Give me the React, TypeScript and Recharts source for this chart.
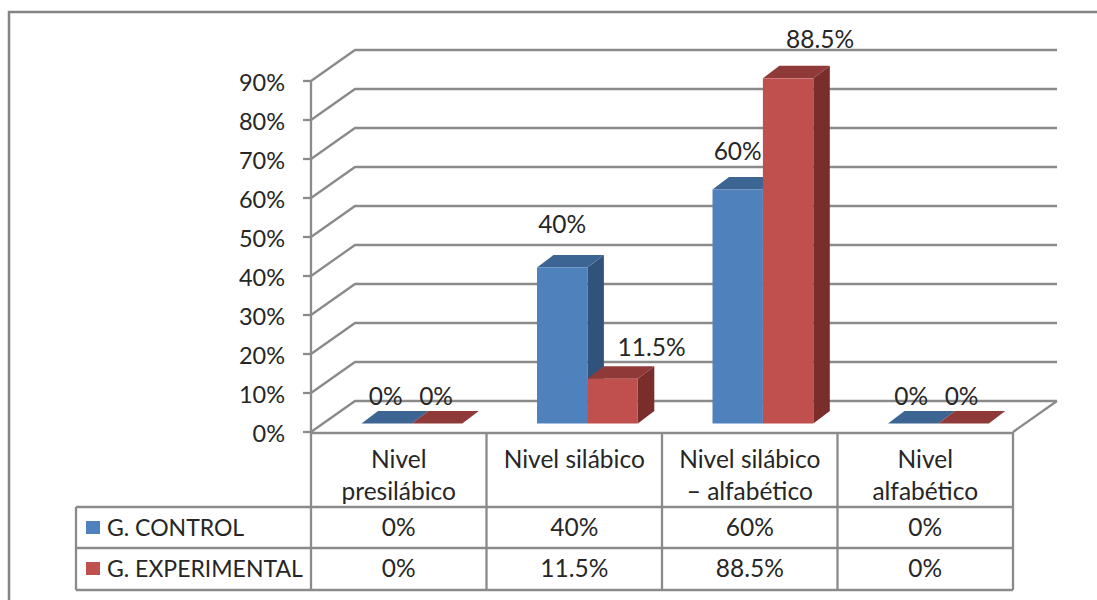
import React from "react";
import { Bar, BarChart, CartesianGrid, LabelList, XAxis, YAxis } from "recharts";

const categories = ["Nivel\npresilábico", "Nivel silábico", "Nivel silábico\n– alfabético", "Nivel\nalfabético"];
const controlValues = [0, 40, 60, 0];
const experimentalValues = [0, 11.5, 88.5, 0];
const yTicks = [0, 10, 20, 30, 40, 50, 60, 70, 80, 90];

const chartData = categories.map((name, i) => ({
  name,
  control: controlValues[i],
  experimental: experimentalValues[i],
}));

const FONT = "Lato, sans-serif";
const FONT_SIZE = 24.5;
const TEXT = "#262626";
const LINE = "#8a8a8a";
const LINE_W = 2.3;

// plot box of the front plane
const LEFT = 311;
const RIGHT = 1013;
const TOP = 81;
const BOTTOM = 432;
const COLUMN = (RIGHT - LEFT) / categories.length;
const AXIS_HEIGHT = 160;

// depth of the walls and of the bars
const WALL_DX = 44;
const WALL_DY = 31;
const BAR_DX = 16.5;
const BAR_DY = 12.5;
const BAR_SHIFT_X = 13.5;
const BAR_SHIFT_Y = -8.5;

// table rows, top to bottom
const ROW_TOP = 507;
const ROW_MID = 548;
const ROW_END = 590;
const TABLE_LEFT = 76;

const blue = { front: "#4f81bd", top: "#3d6594", side: "#31527b" };
const red = { front: "#c0504d", top: "#8f3a38", side: "#7a2e2c" };

// hand placed data labels, [dx, dy] from the top centre of the bar
const controlLabelShift = [[-1, -28], [0, -44], [0, -39], [-2, -28]];
const experimentalLabelShift = [[-1, -28], [39, -32], [32, -40], [-2, -28]];

const pct = (v: number) => `${v}%`;

function Box3D(props: any) {
  const { x, y, width, height, colors } = props;
  const l = x + BAR_SHIFT_X;
  const r = l + width;
  const t = y + BAR_SHIFT_Y;
  const b = t + height;
  return (
    <g>
      {height > 0 && (
        <polygon
          points={`${r},${t} ${r + BAR_DX},${t - BAR_DY} ${r + BAR_DX},${b - BAR_DY} ${r},${b}`}
          fill={colors.side}
        />
      )}
      <polygon
        points={`${l},${t} ${l + BAR_DX},${t - BAR_DY} ${r + BAR_DX},${t - BAR_DY} ${r},${t}`}
        fill={colors.top}
      />
      {height > 0 && <rect x={l} y={t} width={width} height={height} fill={colors.front} />}
    </g>
  );
}

// each horizontal gridline folds back along the side wall
function WallLine(props: any) {
  const { x1, x2, y1, index } = props;
  const backY = y1 - WALL_DY;
  return (
    <g key={`wall-${index}`} fill="none" stroke={LINE} strokeWidth={LINE_W}>
      <path d={`M${x1},${y1} L${x1 + WALL_DX},${backY} L${x2 + WALL_DX},${backY}`} />
      {y1 >= BOTTOM && <path d={`M${x2 + WALL_DX},${backY} L${x2},${y1}`} />}
    </g>
  );
}

function YTick(props: any) {
  const { x, y, payload } = props;
  return (
    <text x={x - 16} y={y + 1} textAnchor="end" dominantBaseline="central" fontFamily={FONT} fontSize={23.5} fill={TEXT}>
      {pct(payload.value)}
    </text>
  );
}

// an x axis tick draws one whole column of the data table
function TableColumn(props: any) {
  const { x, payload, index } = props;
  const lines = String(payload.value).split("\n");
  const textProps = { x, textAnchor: "middle", dominantBaseline: "central", fontFamily: FONT, fontSize: FONT_SIZE, fill: TEXT } as const;
  return (
    <g>
      {lines.map((line, i) => (
        <text key={line} {...textProps} y={458.5 + i * 32}>
          {line}
        </text>
      ))}
      <text {...textProps} y={526.5}>{pct(controlValues[index])}</text>
      <text {...textProps} y={567.5}>{pct(experimentalValues[index])}</text>
      <line x1={x + COLUMN / 2} x2={x + COLUMN / 2} y1={BOTTOM} y2={ROW_END} stroke={LINE} strokeWidth={LINE_W} />
    </g>
  );
}

function BarValue(props: any) {
  const { x, y, width, value, index, shifts } = props;
  const [dx, dy] = shifts[index];
  return (
    <text
      x={x + BAR_SHIFT_X + width / 2 + dx}
      y={y + BAR_SHIFT_Y + dy}
      textAnchor="middle"
      dominantBaseline="central"
      fontFamily={FONT}
      fontSize={FONT_SIZE}
      fill={TEXT}
    >
      {pct(value)}
    </text>
  );
}

function TableFrame() {
  const rowText = { x: 107, fontFamily: FONT, fontSize: 23, fill: TEXT, dominantBaseline: "central" } as const;
  return (
    <g>
      <path d="M9,600 L9,12 L1097,12" fill="none" stroke="#848484" strokeWidth={2.5} />
      <g fill="none" stroke={LINE} strokeWidth={LINE_W}>
        <path d={`M${LEFT},${BOTTOM + 1} L${RIGHT},${BOTTOM + 1}`} />
        <path d={`M${LEFT},${BOTTOM} L${LEFT},${ROW_END}`} />
        <path d={`M${TABLE_LEFT},${ROW_TOP} L${RIGHT},${ROW_TOP}`} />
        <path d={`M${TABLE_LEFT},${ROW_MID} L${RIGHT},${ROW_MID}`} />
        <path d={`M${TABLE_LEFT},${ROW_END} L${RIGHT},${ROW_END}`} />
        <path d={`M${TABLE_LEFT},${ROW_TOP} L${TABLE_LEFT},${ROW_END}`} />
      </g>
      <rect x={86} y={521} width={14} height={13} fill={blue.front} />
      <rect x={86} y={562} width={14} height={13} fill={red.front} />
      <text {...rowText} y={527}>G. CONTROL</text>
      <text {...rowText} y={568}>G. EXPERIMENTAL</text>
    </g>
  );
}

export default function App() {
  return (
    <div style={{ position: "absolute", left: 0, top: 0 }}>
      <BarChart
        width={1097}
        height={600}
        data={chartData}
        margin={{ top: TOP, right: 1097 - RIGHT, bottom: 600 - BOTTOM - AXIS_HEIGHT, left: 0 }}
        barSize={50.4}
        barGap={0}
      >
        <CartesianGrid vertical={false} horizontal={WallLine} />
        <XAxis dataKey="name" height={AXIS_HEIGHT} interval={0} axisLine={false} tickLine={false} tick={TableColumn} />
        <YAxis
          width={LEFT}
          domain={[0, 90]}
          ticks={yTicks}
          interval={0}
          axisLine={{ stroke: LINE, strokeWidth: LINE_W }}
          tickLine={{ stroke: LINE, strokeWidth: LINE_W }}
          tickSize={8}
          tick={YTick}
        />
        <TableFrame />
        <Bar dataKey="control" isAnimationActive={false} shape={<Box3D colors={blue} />}>
          <LabelList dataKey="control" content={<BarValue shifts={controlLabelShift} />} />
        </Bar>
        <Bar dataKey="experimental" isAnimationActive={false} shape={<Box3D colors={red} />}>
          <LabelList dataKey="experimental" content={<BarValue shifts={experimentalLabelShift} />} />
        </Bar>
      </BarChart>
    </div>
  );
}
